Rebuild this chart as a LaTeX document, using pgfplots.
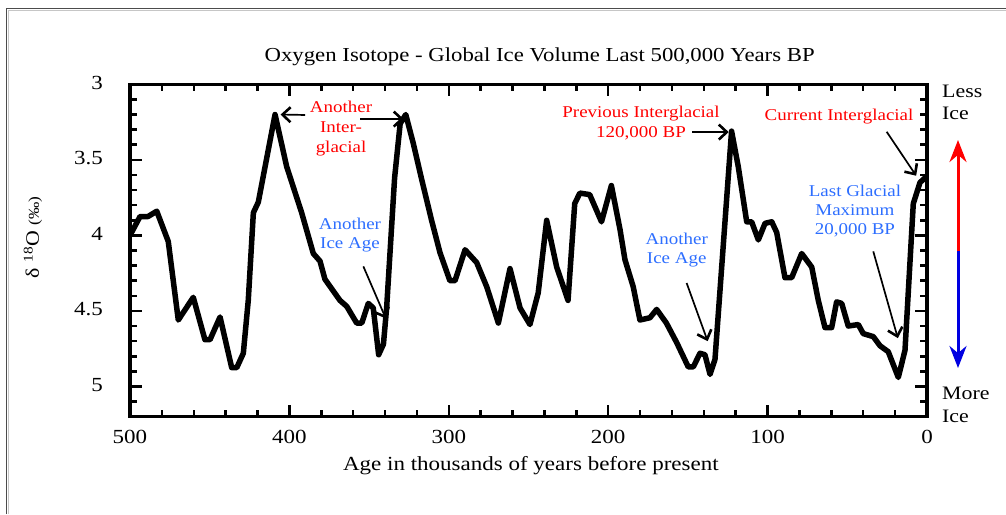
\documentclass[border=0pt]{standalone}
\usepackage{fontspec}
\setmainfont{Liberation Serif}[FakeStretch=1.15]
\usepackage{pgfplots}
\pgfplotsset{compat=1.18}
\usetikzlibrary{arrows.meta}
\definecolor{annred}{RGB}{255,0,0}
\definecolor{annblue}{RGB}{45,110,255}
\definecolor{arrblue}{RGB}{0,0,225}
\tikzset{
  annr/.style={text=annred, font=\fontsize{16.5}{20}\selectfont, align=center, inner sep=0pt},
  annb/.style={text=annblue, font=\fontsize{16.5}{19}\selectfont, align=center, inner sep=0pt},
  arr/.style={black, line width=1.7pt, -{Straight Barb[length=8pt,width=15pt,line width=2.6pt]}},
}
\begin{document}
\begin{tikzpicture}
\useasboundingbox (0,0) rectangle (1006pt,-514pt);
\draw[gray!45, line width=1.5pt] (8.7pt,-514pt) -- (8.7pt,-10.3pt) -- (1006pt,-10.3pt);
\draw[black!70, line width=1.5pt] (6.7pt,-514pt) -- (6.7pt,-8.3pt) -- (1006pt,-8.3pt);
\begin{axis}[
  at={(528.5pt,-250.5pt)}, anchor=center,
  scale only axis, width=797pt, height=332.4pt,
  x dir=reverse, y dir=reverse,
  xmin=0, xmax=500, ymin=3, ymax=5.2,
  xtick={0,100,200,300,400,500},
  minor x tick num=4,
  ytick={3,3.5,4,4.5,5},
  minor ytick={3.1,3.2,3.3,3.4,3.6,3.7,3.8,3.9,4.1,4.2,4.3,4.4,4.6,4.7,4.8,4.9,5.1},
  major tick length=12pt, minor tick length=7pt,
  tick style={line width=2.5pt, black},
  axis line style={line width=3.2pt, line cap=rect},
  /pgf/number format/assume math mode=true,
  ticklabel style={font=\fontsize{20}{24}\selectfont},
  xticklabel style={anchor=center, yshift=-20pt},
  yticklabel style={anchor=east, inner sep=0pt, xshift=-27pt, yshift=1.5pt},
  title={Oxygen Isotope - Global Ice Volume Last 500,000 Years BP},
  title style={at={(0.514,1.064)}, anchor=center, font=\fontsize{19.8}{23}\selectfont},
  xlabel={Age in thousands of years before present},
  xlabel style={at={(0.503,-0.148)}, anchor=center, font=\fontsize{20}{24}\selectfont},
  ylabel={δ \textsuperscript{18}O {\fontsize{15}{17}\selectfont(‰)}},
  ylabel style={at={(-0.1217,0.539)}, anchor=center, font=\fontsize{19}{23}\selectfont},
]
\addplot[black, line width=5.5pt, line join=round, line cap=round] coordinates {
(500,4.00) (493.7,3.875) (488.7,3.875) (483.2,3.84) (476,4.04) (469.7,4.56)
(460.3,4.41) (453,4.69) (449.8,4.69) (443.5,4.54) (436.2,4.875) (433,4.875)
(428.9,4.78) (425.8,4.43) (422.6,3.85) (419.5,3.78) (409,3.20) (401.7,3.545)
(392.3,3.85) (385,4.12) (380.8,4.17) (377.7,4.29) (368.3,4.43) (364,4.47)
(357.8,4.58) (354.6,4.58) (350.5,4.45) (347.4,4.48) (344,4.79) (341,4.72)
(339,4.48) (334,3.62) (330.5,3.26) (327,3.20) (322.3,3.39) (317,3.63)
(310.8,3.90) (305.5,4.115) (299.3,4.30) (296.1,4.30) (289.8,4.095) (282.5,4.18)
(276.2,4.34) (268.9,4.58) (261.6,4.22) (255.3,4.48) (249.1,4.59) (243.9,4.38)
(238.6,3.90) (232.3,4.21) (225.2,4.43) (221,3.79) (217.8,3.72) (211.6,3.73)
(204.2,3.91) (198,3.67) (192.6,3.96) (189.5,4.16) (184.3,4.34) (180.1,4.56)
(173.8,4.545) (169.6,4.49) (163.5,4.58) (157,4.71) (149.8,4.87) (146.6,4.87)
(142.4,4.78) (139.3,4.79) (136.1,4.92) (133,4.82) (128.8,4.21) (122.6,3.31)
(118.4,3.545) (113.1,3.91) (110,3.91) (105.8,4.03) (101.6,3.92) (97.4,3.91)
(94.3,3.98) (89.1,4.28) (84.9,4.28) (78.6,4.12) (72.3,4.21) (68.2,4.43)
(64,4.61) (59.8,4.61) (56.7,4.44) (53.5,4.45) (49.4,4.60) (43.1,4.59)
(40,4.65) (33.7,4.67) (29.5,4.73) (24.3,4.77) (18,4.94) (13.8,4.76)
(8.6,3.79) (4.4,3.65) (1.3,3.62)
};
% annotations
\node[annr] at (367.6,3.29) {Another\\Inter-\\glacial};
\draw[arr] (390.2,3.203) -- (405.5,3.20);
\draw[arr] (355.7,3.23) -- (328.3,3.23);
\node[annb] at (362,4.0) {Another\\Ice Age};
\draw[arr] (353.6,4.205) -- (339.5,4.55);
\node[annr] at (179.4,3.256) {Previous Interglacial\\120,000 BP};
\draw[arr] (147.4,3.316) -- (124.4,3.316);
\node[annr] at (55.2,3.214) {Current Interglacial};
\draw[arr] (25.3,3.314) -- (6.8,3.605);
\node[annb] at (45.2,3.837) {Last Glacial\\Maximum\\20,000 BP};
\draw[arr] (33.7,4.106) -- (18.3,4.68);
\node[annb] at (157,4.10) {Another\\Ice Age};
\draw[arr] (150.8,4.315) -- (137.6,4.70);
\end{axis}
\node[anchor=west, align=left, inner sep=0pt, font=\fontsize{19}{21.7}\selectfont] at (942pt,-102.5pt) {Less\\Ice};
\node[anchor=west, align=left, inner sep=0pt, font=\fontsize{19}{23}\selectfont] at (942pt,-405pt) {More\\Ice};
\draw[annred, line width=3pt, -{Stealth[length=22pt,width=17pt]}] (958pt,-252pt) -- (958pt,-140pt);
\draw[arrblue, line width=3pt, -{Stealth[length=22pt,width=17pt]}] (958pt,-251pt) -- (958pt,-368pt);
\end{tikzpicture}
\end{document}
